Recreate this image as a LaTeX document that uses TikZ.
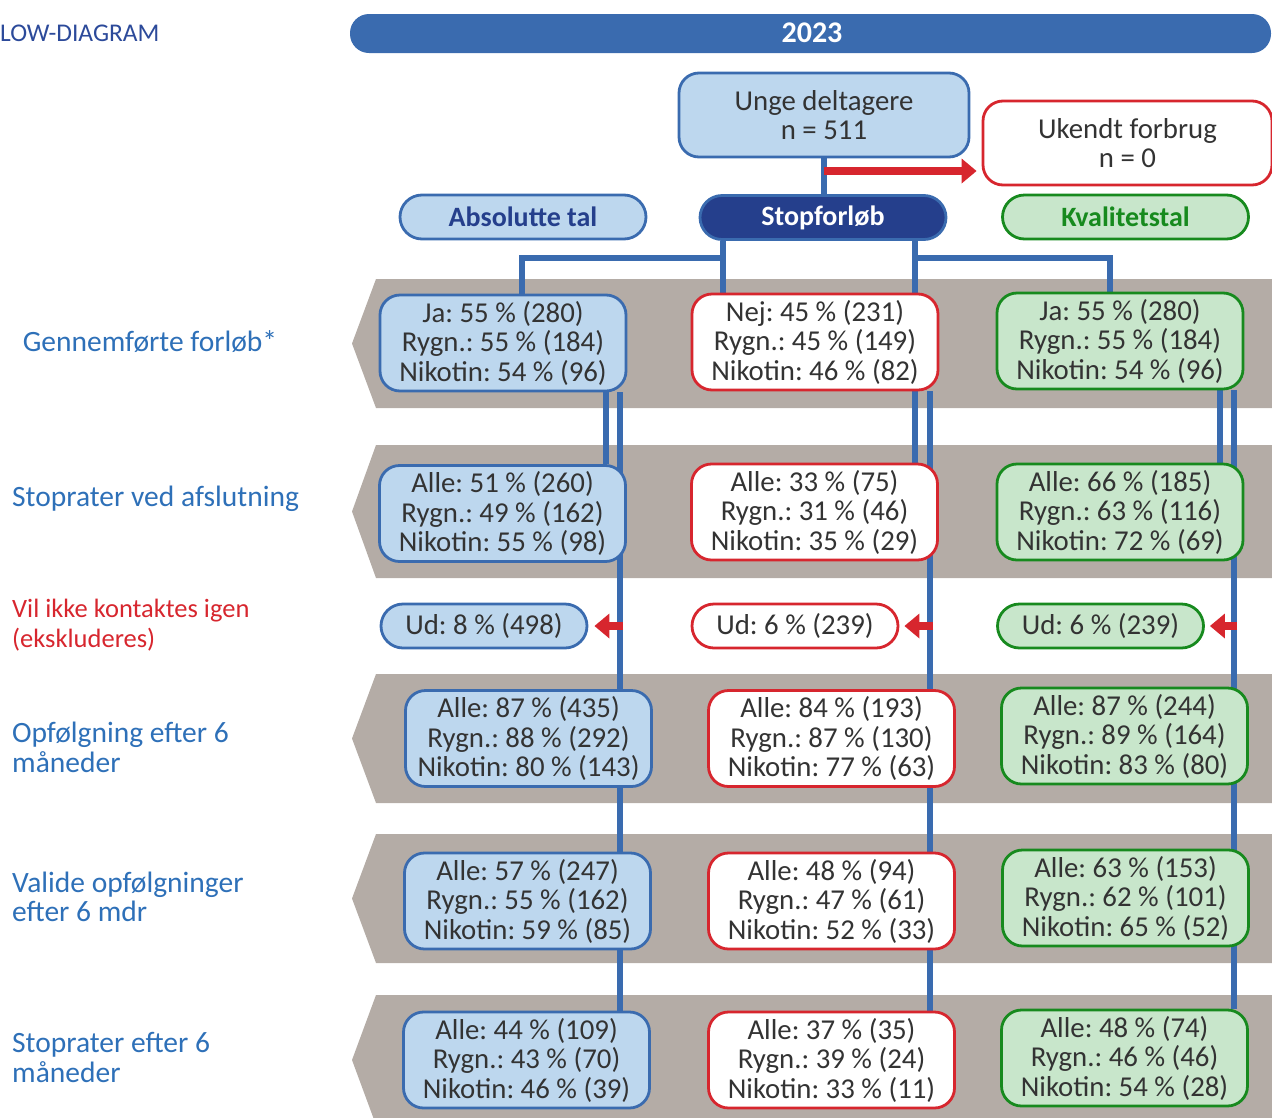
\documentclass[tikz,border=0pt]{standalone}
\usepackage{fontspec}
\setmainfont{Carlito}
\frenchspacing
\usetikzlibrary{arrows.meta,backgrounds}
\definecolor{bl}{HTML}{3A6BAF}
\definecolor{lbl}{HTML}{BDD7EE}
\definecolor{navy}{HTML}{253F8C}
\definecolor{rd}{HTML}{D7262E}
\definecolor{gr}{HTML}{178A1E}
\definecolor{lgr}{HTML}{C8E6CB}
\definecolor{band}{HTML}{B4ACA6}
\definecolor{txt}{HTML}{333333}
\definecolor{lab}{HTML}{2E70B8}
\definecolor{ttl}{HTML}{2C4A9A}
\newcommand\bxf{\fontsize{28.8}{29.5}\selectfont}
\newcommand\lbf{\fontsize{29.5}{29.5}\selectfont}
\newcommand\hdf{\fontsize{28}{30}\selectfont\bfseries}
\tikzset{
  box/.style={rounded corners=20pt, line width=2.8pt, minimum width=246pt, minimum height=96pt, align=center, inner sep=0pt, font=\bxf, text=txt},
  absbox/.style={box, draw=bl, fill=lbl},
  midbox/.style={box, draw=rd, fill=white},
  kvbox/.style={box, draw=gr, fill=lgr},
  pill/.style={rounded corners=22pt, line width=2.8pt, minimum width=206pt, minimum height=44pt, inner sep=0pt, font=\bxf, text=txt},
  hdr/.style={rounded corners=22pt, line width=2.8pt, minimum width=246pt, minimum height=44pt, inner sep=0pt, font=\hdf},
  conn/.style={draw=bl, line width=6.5pt},
  vline/.style={draw=bl, line width=6pt},
  redarr/.style={draw=rd, line width=7.5pt, -{Triangle[length=15pt,width=24pt]}},
  sidelab/.style={anchor=west, align=left, font=\lbf, text=lab, inner sep=0pt},
}
\begin{document}
\begin{tikzpicture}[x=1pt,y=-1pt]
\useasboundingbox (0,0) rectangle (1272,1117);
\clip (0,0) rectangle (1272,1117);
% title
\node[anchor=west, inner sep=0pt, font=\fontsize{25.5}{27}\selectfont, text=ttl] (ttl) at (0,33) {LOW-DIAGRAM};
% banner
\fill[bl, rounded corners=19pt] (350,14) rectangle (1271,53);
\node[font=\fontsize{30}{32}\selectfont\bfseries, text=white, inner sep=0pt] (yr) at (812,33) {2023};
% side labels
\node[anchor=center, inner sep=0pt, font=\lbf, text=lab] (l1) at (150,342) {Gennemførte forløb*};
\node[sidelab] (l2) at (12,499) {Stoprater ved afslutning};
\node[sidelab, text=rd, font=\fontsize{26.5}{30}\selectfont] (l3) at (12,625) {Vil ikke kontaktes igen\\(ekskluderes)};
\node[sidelab] (l4) at (12,747.5) {Opfølgning efter 6\\måneder};
\node[sidelab] (l5) at (12,897) {Valide opfølgninger\\efter 6 mdr};
\node[sidelab] (l6) at (12,1057.5) {Stoprater efter 6\\måneder};
% top nodes
\node[box, draw=bl, fill=lbl, minimum width=290pt, minimum height=84pt] (unge) at (824,115) {Unge deltagere\\n = 511};
\node[box, draw=rd, fill=white, minimum width=289pt, minimum height=84pt] (ukendt) at (1127.5,143) {Ukendt forbrug\\n = 0};
\node[hdr, draw=bl, fill=lbl, text=navy] (habs) at (523,217) {Absolutte tal};
\node[hdr, draw=bl, fill=navy, text=white] (hstop) at (823,217.5) {Stopforløb};
\node[hdr, draw=gr, fill=lgr, text=gr] (hkv) at (1125.5,217) {Kvalitetstal};
% data nodes
\node[absbox] (a1) at (503,343) {Ja: 55 \% (280)\\Rygn.: 55 \% (184)\\Nikotin: 54 \% (96)};
\node[midbox] (m1) at (815,342) {Nej: 45 \% (231)\\Rygn.: 45 \% (149)\\Nikotin: 46 \% (82)};
\node[kvbox] (k1) at (1120,341) {Ja: 55 \% (280)\\Rygn.: 55 \% (184)\\Nikotin: 54 \% (96)};
\node[absbox] (a2) at (502.5,513.5) {Alle: 51 \% (260)\\Rygn.: 49 \% (162)\\Nikotin: 55 \% (98)};
\node[midbox] (m2) at (814.5,512) {Alle: 33 \% (75)\\Rygn.: 31 \% (46)\\Nikotin: 35 \% (29)};
\node[kvbox] (k2) at (1120,512) {Alle: 66 \% (185)\\Rygn.: 63 \% (116)\\Nikotin: 72 \% (69)};
\node[pill, draw=bl, fill=lbl] (a3) at (484,626) {Ud: 8 \% (498)};
\node[pill, draw=rd, fill=white] (m3) at (795,626) {Ud: 6 \% (239)};
\node[pill, draw=gr, fill=lgr] (k3) at (1100.5,626) {Ud: 6 \% (239)};
\node[absbox] (a4) at (528.5,738.5) {Alle: 87 \% (435)\\Rygn.: 88 \% (292)\\Nikotin: 80 \% (143)};
\node[midbox] (m4) at (831.5,738.5) {Alle: 84 \% (193)\\Rygn.: 87 \% (130)\\Nikotin: 77 \% (63)};
\node[kvbox] (k4) at (1124.5,736) {Alle: 87 \% (244)\\Rygn.: 89 \% (164)\\Nikotin: 83 \% (80)};
\node[absbox] (a5) at (527.5,901) {Alle: 57 \% (247)\\Rygn.: 55 \% (162)\\Nikotin: 59 \% (85)};
\node[midbox] (m5) at (831.5,901) {Alle: 48 \% (94)\\Rygn.: 47 \% (61)\\Nikotin: 52 \% (33)};
\node[kvbox] (k5) at (1125.5,898) {Alle: 63 \% (153)\\Rygn.: 62 \% (101)\\Nikotin: 65 \% (52)};
\node[absbox] (a6) at (526.5,1060) {Alle: 44 \% (109)\\Rygn.: 43 \% (70)\\Nikotin: 46 \% (39)};
\node[midbox] (m6) at (831.5,1060) {Alle: 37 \% (35)\\Rygn.: 39 \% (24)\\Nikotin: 33 \% (11)};
\node[kvbox] (k6) at (1124.5,1058) {Alle: 48 \% (74)\\Rygn.: 46 \% (46)\\Nikotin: 54 \% (28)};
% bands and connectors behind the boxes
\begin{scope}[on background layer]
\foreach \t/\b in {279/408, 445/578, 674/803, 834/963, 995/1125}{
  \fill[band] (376,\t) -- (1280,\t) -- (1280,\b) -- (376,\b) -- (352,{(\t+\b)/2}) -- cycle;
}
\draw[conn] (unge.south) -- (unge.south |- hstop.north);
\draw[conn] (hstop.south -| 723,0) -- (m1.north -| 723,0);
\draw[conn] (hstop.south -| 915,0) -- (m1.north -| 915,0);
\draw[conn] (723,258) -| (a1.north -| 522,0);
\draw[conn] (915,258) -| (k1.north -| 1110,0);
\draw[vline] (a1.south -| 606,0) -- (a2.north -| 606,0);
\draw[vline] (a1.south -| 620,0) -- (a6.north -| 620,0);
\draw[vline] (m1.south -| 915,0) -- (m2.north -| 915,0);
\draw[vline] (m1.south -| 930,0) -- (m6.north -| 930,0);
\draw[vline] (k1.south -| 1220,0) -- (k2.north -| 1220,0);
\draw[vline] (k1.south -| 1234,0) -- (k6.north -| 1234,0);
\end{scope}
% red arrows
\draw[redarr] (unge.south |- 0,171) -- (ukendt.west |- 0,171) [shorten >=5pt];
\draw[redarr, shorten >=6pt] (a3.east -| 623,0) -- (a3.east);
\draw[redarr, shorten >=5pt] (m3.east -| 933,0) -- (m3.east);
\draw[redarr, shorten >=5pt] (k3.east -| 1237,0) -- (k3.east);
\end{tikzpicture}
\end{document}
